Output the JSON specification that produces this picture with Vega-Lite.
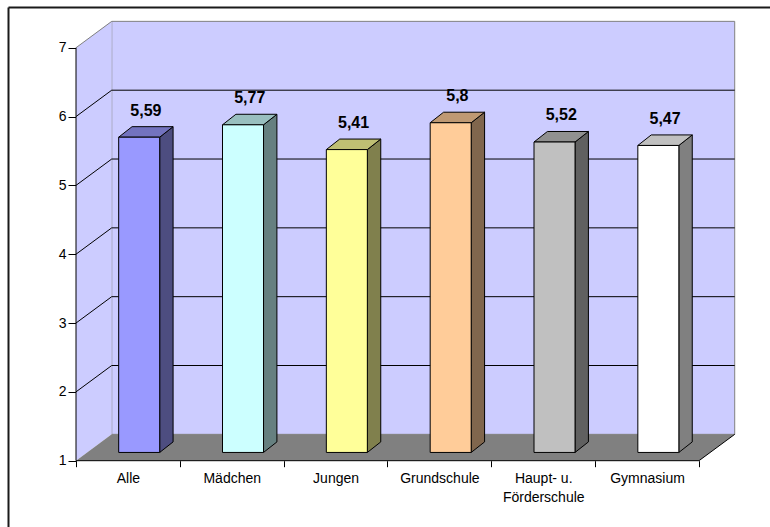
{
  "$schema": "https://vega.github.io/schema/vega-lite/v6.json",
  "width": 762,
  "height": 520,
  "autosize": {"type": "none"},
  "padding": {"left": 8, "top": 7, "right": 0, "bottom": 0},
  "background": "white",
  "config": {"view": {"stroke": null}, "font": "Liberation Sans"},
  "datasets": {
    "bars": [
      {"cat": "Alle", "v": 5.59},
      {"cat": "Mädchen", "v": 5.77},
      {"cat": "Jungen", "v": 5.41},
      {"cat": "Grundschule", "v": 5.8},
      {"cat": "Haupt- u. Förderschule", "v": 5.52},
      {"cat": "Gymnasium", "v": 5.47}
    ],
    "ticks": [{"v": 2}, {"v": 3}, {"v": 4}, {"v": 5}, {"v": 6}, {"v": 7}]
  },
  "resolve": {"scale": {"color": "independent"}, "axis": {"x": "independent", "y": "independent"}},
  "layer": [
    {
      "data": {"values": [{}]},
      "mark": {"type": "rect", "fill": "#CCCCFF", "stroke": "#808080", "strokeWidth": 1},
      "encoding": {
        "x": {"datum": 0.344, "type": "quantitative", "scale": {"domain": [-0.6549, 6.6838], "nice": false, "zero": false},
          "axis": {"orient": "top", "domain": true, "domainColor": "#1a1a1a", "domainWidth": 2, "ticks": false, "labels": false, "grid": false, "title": null}},
        "x2": {"datum": 6.344},
        "y": {"datum": 1.383, "type": "quantitative", "scale": {"domain": [0.0368, 7.5916], "nice": false, "zero": false},
          "axis": {"orient": "left", "domain": true, "domainColor": "#1a1a1a", "domainWidth": 2, "ticks": false, "labels": false, "grid": false, "title": null}},
        "y2": {"datum": 7.383}
      }
    },
    {
      "data": {"values": [{}]},
      "transform": [
        {"calculate": "[0,1]", "as": "d"},
        {"flatten": ["d"]},
        {"calculate": "datum.d*0.344", "as": "wx"},
        {"calculate": "1+datum.d*0.383", "as": "wy"},
        {"calculate": "7+datum.d*0.383", "as": "wy2"}
      ],
      "mark": {"type": "area", "orient": "vertical", "fill": "#CCCCFF"},
      "encoding": {
        "x": {"field": "wx", "type": "quantitative", "scale": {"domain": [-0.6549, 6.6838], "nice": false, "zero": false}, "axis": null},
        "y": {"field": "wy", "type": "quantitative", "scale": {"domain": [0.0368, 7.5916], "nice": false, "zero": false}, "axis": null},
        "y2": {"field": "wy2"}
      }
    },
    {
      "data": {"values": [{}]},
      "transform": [
        {"calculate": "[0,1]", "as": "d"},
        {"flatten": ["d"]},
        {"calculate": "1+datum.d*0.383", "as": "fy"},
        {"calculate": "datum.d*0.344", "as": "fx"},
        {"calculate": "6+datum.d*0.344", "as": "fx2"}
      ],
      "mark": {"type": "area", "orient": "horizontal", "fill": "#808080"},
      "encoding": {
        "y": {"field": "fy", "type": "quantitative", "scale": {"domain": [0.0368, 7.5916], "nice": false, "zero": false}, "axis": null},
        "x": {"field": "fx", "type": "quantitative", "scale": {"domain": [-0.6549, 6.6838], "nice": false, "zero": false}, "axis": null},
        "x2": {"field": "fx2"}
      }
    },
    {
      "data": {"name": "ticks"},
      "transform": [{"filter": "datum.v < 7"}, {"calculate": "datum.v+0.383", "as": "gy"}],
      "mark": {"type": "rule", "color": "#000000", "strokeWidth": 1},
      "encoding": {
        "x": {"datum": 0.344, "type": "quantitative", "scale": {"domain": [-0.6549, 6.6838], "nice": false, "zero": false}, "axis": null},
        "x2": {"datum": 6.344},
        "y": {"field": "gy", "type": "quantitative", "scale": {"domain": [0.0368, 7.5916], "nice": false, "zero": false}, "axis": null}
      }
    },
    {
      "data": {"name": "ticks"},
      "transform": [{"calculate": "datum.v+0.383", "as": "gy"}],
      "mark": {"type": "rule", "strokeWidth": 1},
      "encoding": {
        "x": {"datum": 0, "type": "quantitative", "scale": {"domain": [-0.6549, 6.6838], "nice": false, "zero": false}, "axis": null},
        "x2": {"datum": 0.344},
        "y": {"field": "v", "type": "quantitative", "scale": {"domain": [0.0368, 7.5916], "nice": false, "zero": false}, "axis": null},
        "y2": {"field": "gy"},
        "color": {"condition": {"test": "datum.v == 7", "value": "#808080"}, "value": "#000000"}
      }
    },
    {
      "data": {"values": [{}]},
      "mark": {"type": "rule", "color": "#000000", "strokeWidth": 1},
      "encoding": {
        "x": {"datum": 0, "type": "quantitative", "scale": {"domain": [-0.6549, 6.6838], "nice": false, "zero": false},
          "axis": {"orient": "bottom", "offset": -66.3, "values": [0, 1, 2, 3, 4, 5, 6], "domain": false, "grid": false, "ticks": true, "tickSize": 6, "tickColor": "#000000",
            "labelExpr": "['Alle','Mädchen','Jungen','Grundschule',['Haupt- u.','Förderschule'],'Gymnasium',''][datum.value]",
            "labelOffset": 51.9, "labelAlign": "center", "labelBaseline": "top", "labelPadding": 5, "labelFont": "Liberation Sans", "labelFontSize": 14, "labelColor": "#000000",
            "labelLineHeight": 19, "labelFlush": false, "labelOverlap": false, "labelBound": false, "title": null}},
        "y": {"datum": 1, "type": "quantitative", "scale": {"domain": [0.0368, 7.5916], "nice": false, "zero": false},
          "axis": {"orient": "left", "offset": -68, "values": [1, 2, 3, 4, 5, 6, 7], "domain": false, "grid": false, "ticks": true, "tickSize": 8, "tickColor": "#000000",
            "labelPadding": 2, "labelFont": "Liberation Sans", "labelFontSize": 14, "labelColor": "#000000", "labelFlush": false, "labelOverlap": false, "labelBound": false, "title": null}},
        "y2": {"datum": 7}
      }
    },
    {
      "data": {"values": [{}]},
      "mark": {"type": "rule", "color": "#000000", "strokeWidth": 1},
      "encoding": {
        "x": {"datum": 0, "type": "quantitative", "scale": {"domain": [-0.6549, 6.6838], "nice": false, "zero": false}, "axis": null},
        "x2": {"datum": 6},
        "y": {"datum": 1, "type": "quantitative", "scale": {"domain": [0.0368, 7.5916], "nice": false, "zero": false}, "axis": null}
      }
    },
    {
      "data": {"values": [{}]},
      "mark": {"type": "rule", "color": "#000000", "strokeWidth": 1},
      "encoding": {
        "x": {"datum": 6, "type": "quantitative", "scale": {"domain": [-0.6549, 6.6838], "nice": false, "zero": false}, "axis": null},
        "x2": {"datum": 6.344},
        "y": {"datum": 1, "type": "quantitative", "scale": {"domain": [0.0368, 7.5916], "nice": false, "zero": false}, "axis": null},
        "y2": {"datum": 1.383}
      }
    },
    {
      "data": {"name": "bars"},
      "transform": [
        {"window": [{"op": "row_number", "as": "n"}]},
        {"calculate": "[0,1]", "as": "d"},
        {"flatten": ["d"]},
        {"calculate": "datum.n-1+0.806+datum.d*0.129", "as": "sx"},
        {"calculate": "1.12+datum.d*0.153", "as": "sy"},
        {"calculate": "datum.v+0.11+datum.d*0.153", "as": "sy2"}
      ],
      "mark": {"type": "area", "orient": "vertical", "stroke": "#000000", "strokeWidth": 1, "strokeJoin": "miter"},
      "encoding": {
        "x": {"field": "sx", "type": "quantitative", "scale": {"domain": [-0.6549, 6.6838], "nice": false, "zero": false}, "axis": null},
        "y": {"field": "sy", "type": "quantitative", "scale": {"domain": [0.0368, 7.5916], "nice": false, "zero": false}, "axis": null},
        "y2": {"field": "sy2"},
        "color": {"field": "cat", "type": "nominal", "legend": null,
          "scale": {"domain": ["Alle", "Mädchen", "Jungen", "Grundschule", "Haupt- u. Förderschule", "Gymnasium"],
            "range": ["#4D4D80", "#668080", "#80804D", "#80664D", "#606060", "#808080"]}}
      }
    },
    {
      "data": {"name": "bars"},
      "transform": [
        {"window": [{"op": "row_number", "as": "n"}]},
        {"calculate": "[0,1]", "as": "d"},
        {"flatten": ["d"]},
        {"calculate": "datum.v+0.11+datum.d*0.153", "as": "ty"},
        {"calculate": "datum.n-1+0.411+datum.d*0.129", "as": "tx"},
        {"calculate": "datum.n-1+0.806+datum.d*0.129", "as": "tx2"}
      ],
      "mark": {"type": "area", "orient": "horizontal", "stroke": "#000000", "strokeWidth": 1, "strokeJoin": "miter"},
      "encoding": {
        "y": {"field": "ty", "type": "quantitative", "scale": {"domain": [0.0368, 7.5916], "nice": false, "zero": false}, "axis": null},
        "x": {"field": "tx", "type": "quantitative", "scale": {"domain": [-0.6549, 6.6838], "nice": false, "zero": false}, "axis": null},
        "x2": {"field": "tx2"},
        "color": {"field": "cat", "type": "nominal", "legend": null,
          "scale": {"domain": ["Alle", "Mädchen", "Jungen", "Grundschule", "Haupt- u. Förderschule", "Gymnasium"],
            "range": ["#7373BF", "#99BFBF", "#BFBF73", "#BF9973", "#909090", "#C0C0C0"]}}
      }
    },
    {
      "data": {"name": "bars"},
      "transform": [
        {"window": [{"op": "row_number", "as": "n"}]},
        {"calculate": "datum.n-1+0.411", "as": "bx"},
        {"calculate": "datum.n-1+0.806", "as": "bx2"},
        {"calculate": "1.12", "as": "by"},
        {"calculate": "datum.v+0.11", "as": "by2"}
      ],
      "mark": {"type": "rect", "stroke": "#000000", "strokeWidth": 1},
      "encoding": {
        "x": {"field": "bx", "type": "quantitative", "scale": {"domain": [-0.6549, 6.6838], "nice": false, "zero": false}, "axis": null},
        "x2": {"field": "bx2"},
        "y": {"field": "by", "type": "quantitative", "scale": {"domain": [0.0368, 7.5916], "nice": false, "zero": false}, "axis": null},
        "y2": {"field": "by2"},
        "color": {"field": "cat", "type": "nominal", "legend": null,
          "scale": {"domain": ["Alle", "Mädchen", "Jungen", "Grundschule", "Haupt- u. Förderschule", "Gymnasium"],
            "range": ["#9999FF", "#CCFFFF", "#FFFF99", "#FFCC99", "#C0C0C0", "#FFFFFF"]}}
      }
    },
    {
      "data": {"name": "bars"},
      "transform": [
        {"window": [{"op": "row_number", "as": "n"}]},
        {"calculate": "datum.n-1+0.673", "as": "lx"},
        {"calculate": "datum.v+0.263", "as": "ly"},
        {"calculate": "replace(toString(datum.v), '.', ',')", "as": "lab"}
      ],
      "mark": {"type": "text", "font": "Liberation Sans", "fontSize": 16, "fontWeight": "bold", "color": "#000000", "baseline": "alphabetic", "align": "center", "dy": -11},
      "encoding": {
        "x": {"field": "lx", "type": "quantitative", "scale": {"domain": [-0.6549, 6.6838], "nice": false, "zero": false}, "axis": null},
        "y": {"field": "ly", "type": "quantitative", "scale": {"domain": [0.0368, 7.5916], "nice": false, "zero": false}, "axis": null},
        "text": {"field": "lab", "type": "nominal"}
      }
    }
  ]
}
